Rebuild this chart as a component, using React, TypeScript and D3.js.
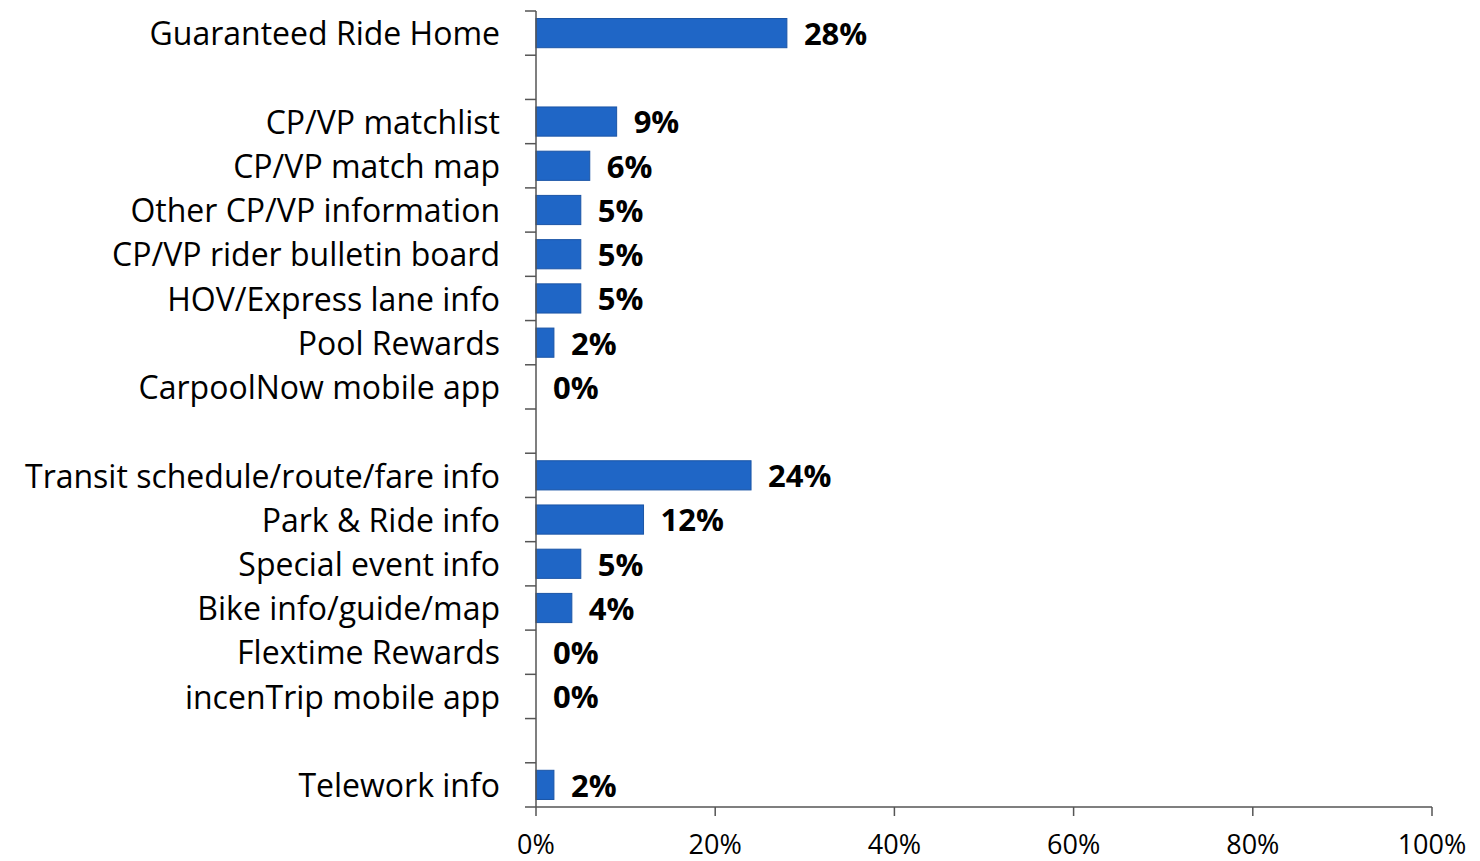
import React from "react";
import * as d3 from "d3";

const categories: (string | null)[] = [
  "Guaranteed Ride Home",
  null,
  "CP/VP matchlist",
  "CP/VP match map",
  "Other CP/VP information",
  "CP/VP rider bulletin board",
  "HOV/Express lane info",
  "Pool Rewards",
  "CarpoolNow mobile app",
  null,
  "Transit schedule/route/fare info",
  "Park & Ride info",
  "Special event info",
  "Bike info/guide/map",
  "Flextime Rewards",
  "incenTrip mobile app",
  null,
  "Telework info",
];
const values: (number | null)[] = [28, null, 9, 6, 5, 5, 5, 2, 0, null, 24, 12, 5, 4, 0, 0, null, 2];
const xTicks = [0, 20, 40, 60, 80, 100];

const W = 1480;
const H = 861;
const x0 = 536;
const x1 = 1432;
const yTop = 11;
const yBot = 807;
const FONT = "'Open Sans', sans-serif";

export default function App() {
  const x = d3.scaleLinear().domain([0, 100]).range([x0, x1]);
  const idx = categories.map((_, i) => i);
  const y = d3.scaleBand<number>().domain(idx).range([yTop, yBot]).paddingInner(0.34).paddingOuter(0.17);
  const step = (yBot - yTop) / categories.length;
  const bounds = d3.range(categories.length + 1).map((i) => yTop + i * step);

  return (
    <svg width={W} height={H} style={{ position: "absolute", left: 0, top: 0, background: "#fff" }}>
      {idx.map((i) => {
        const v = values[i];
        const c = categories[i];
        if (v === null || c === null) return null;
        const yc = (y(i) as number) + y.bandwidth() / 2;
        return (
          <g key={i}>
            {v > 0 && (
              <rect
                x={x(0)}
                y={y(i)}
                width={x(v) - x(0)}
                height={y.bandwidth()}
                fill="#1f66c6"
                stroke="#1b55a6"
                strokeWidth={1}
              />
            )}
            <text x={500} y={yc + 1} dy="0.35em" textAnchor="end" fontFamily={FONT} fontSize={32} fill="#000">
              {c}
            </text>
            <text x={x(v) + 17} y={yc + 1} dy="0.35em" fontFamily={FONT} fontSize={31} fontWeight="bold" fill="#000">
              {v}%
            </text>
          </g>
        );
      })}
      <line x1={x0} x2={x0} y1={yTop} y2={yBot} stroke="#555" strokeWidth={1.5} />
      {bounds.map((b, i) => (
        <line key={i} x1={x0 - 11} x2={x0} y1={b} y2={b} stroke="#555" strokeWidth={1.5} />
      ))}
      <line x1={x0} x2={x1} y1={yBot} y2={yBot} stroke="#555" strokeWidth={1.5} />
      {xTicks.map((t) => (
        <g key={t}>
          <line x1={x(t)} x2={x(t)} y1={yBot} y2={yBot + 9} stroke="#555" strokeWidth={1.5} />
          <text x={x(t)} y={845} dy="0.35em" textAnchor="middle" fontFamily={FONT} fontSize={27} fill="#000">
            {t}%
          </text>
        </g>
      ))}
    </svg>
  );
}
